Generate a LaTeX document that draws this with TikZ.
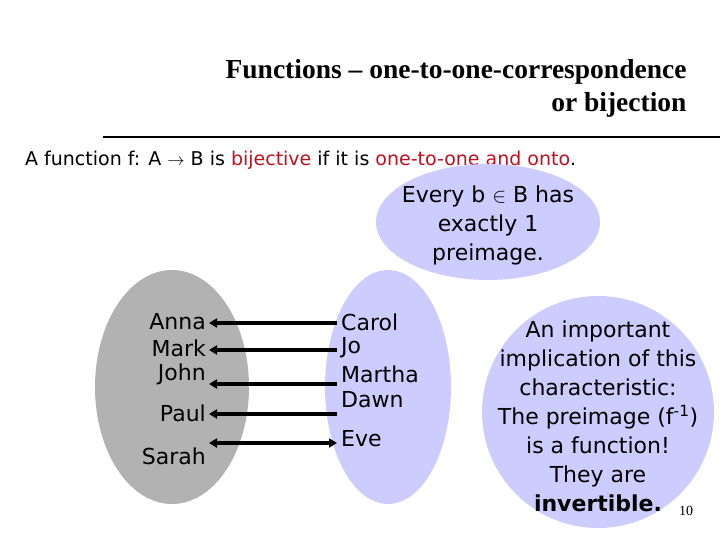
\documentclass[tikz,border=0pt]{standalone}
\usepackage{fontspec}
\setmainfont{DejaVu Sans}
\newfontfamily\titlefont{Liberation Serif}
\usepackage{xcolor}
\usetikzlibrary{arrows.meta,positioning,calc}
\definecolor{lavender}{RGB}{204,204,255}
\definecolor{setgray}{RGB}{178,178,178}
\definecolor{keyred}{RGB}{192,16,32}
\begin{document}
\begin{tikzpicture}[
  x=1pt,y=-1pt,
  person/.style={font=\fontsize{22}{26}\selectfont,inner sep=1pt},
  bubble/.style={align=center,font=\fontsize{22}{29}\selectfont},
  arr/.style={-{Triangle[length=8pt,width=9pt]},line width=3.6pt}
]
\useasboundingbox (0,0) rectangle (720,540);
% title and rule
\node[anchor=east,align=right,font=\titlefont\bfseries\fontsize{27.5}{33}\selectfont] (title) at (690,88) {Functions – one-to-one-correspondence\\or bijection};
\draw[line width=2.8pt] (103,137) -- (720,137);
\node[anchor=west,font=\fontsize{19}{22}\selectfont,inner sep=0pt] (defn) at (25,160)
  {A function f: A $\rightarrow$ B is \textcolor{keyred}{bijective} if it is \textcolor{keyred}{one-to-one and onto}.};
% bubbles
\fill[lavender] (488,222) ellipse [x radius=112,y radius=58];
\node[bubble] (every) at (488,225) {Every b $\in$ B has\\exactly 1\\preimage.};
\fill[setgray] (172,387) ellipse [x radius=77,y radius=117];
\fill[lavender] (388,387) ellipse [x radius=63,y radius=117];
\fill[lavender] (598,412) circle [radius=116];
\node[bubble] (note) at (598,416) {An important\\implication of this\\characteristic:\\The preimage (f\textsuperscript{-1})\\is a function!\\They are\\\textbf{invertible.}};
\node[font=\titlefont\fontsize{14}{16}\selectfont] (pnum) at (686,511) {10};
% domain
\node[person,anchor=east] (anna) at (207,322) {Anna};
\node[person,anchor=east] (mark) at (207,348) {Mark};
\node[person,anchor=east] (john) at (207,374) {John};
\node[person,anchor=east] (paul) at (207,413) {Paul};
\node[person,anchor=east] (sarah) at (207,456) {Sarah};
% codomain
\node[person,anchor=west] (carol) at (340,322) {Carol};
\node[person,anchor=west] (jo) at (340,348) {Jo};
\node[person,anchor=west] (martha) at (340,374) {Martha};
\node[person,anchor=west] (dawn) at (340,400) {Dawn};
\node[person,anchor=west] (eve) at (340,439) {Eve};
% arrows
\draw[arr] ($(carol.west)+(-3,1)$) -- ($(anna.east)+(2,1)$);
\draw[arr] ($(jo.west)+(-3,2)$) -- ($(mark.east)+(2,2)$);
\draw[arr] ($(martha.west)+(-3,10)$) -- ($(john.east)+(2,10)$);
\draw[arr] ($(dawn.west |- paul.east)+(-3,1)$) -- ($(paul.east)+(2,1)$);
\draw[arr,{Triangle[length=8pt,width=9pt]}-{Triangle[length=8pt,width=9pt]}] ($(eve.west)+(-3,4)$) -- ($(sarah.east)+(2,-13)$);
\end{tikzpicture}
\end{document}
